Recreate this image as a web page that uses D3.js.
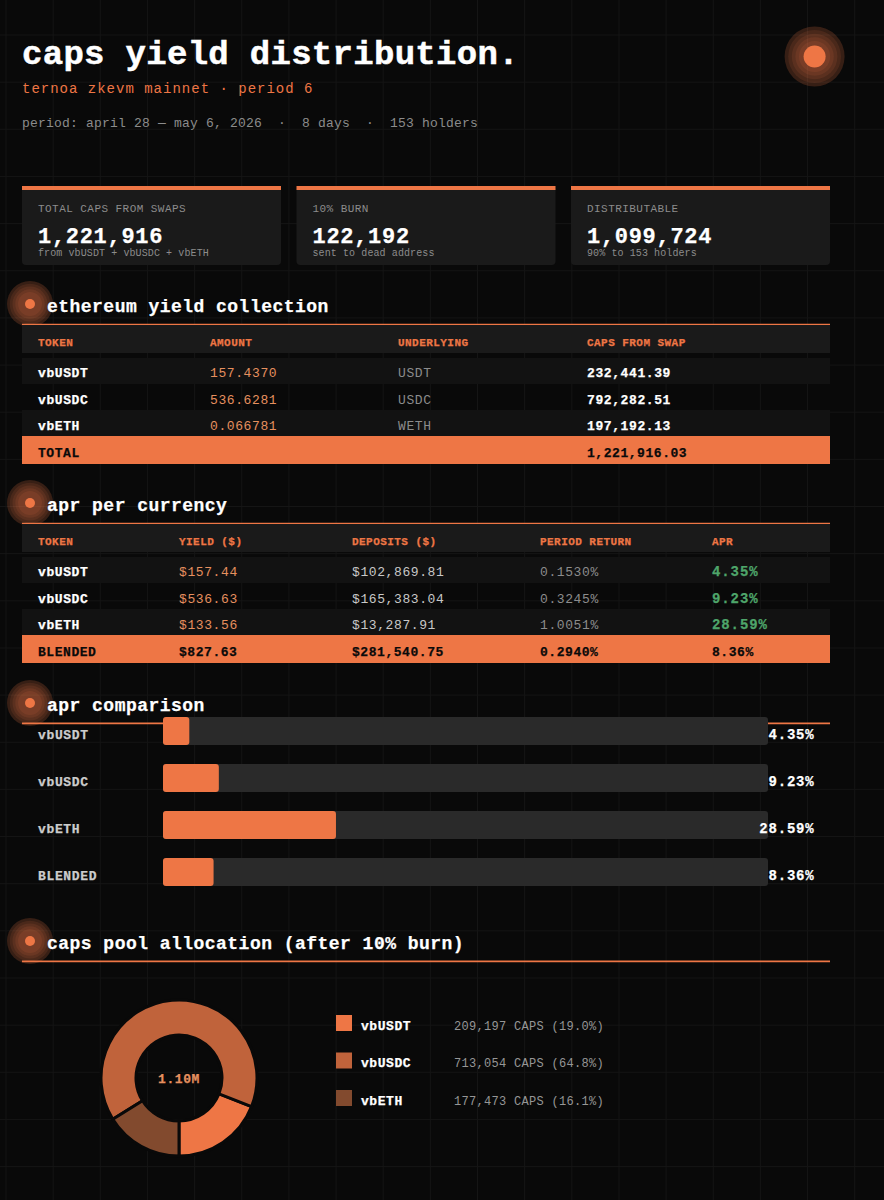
<!DOCTYPE html>
<html>
<head>
<meta charset="utf-8">
<script src="https://cdn.jsdelivr.net/npm/d3@7"></script>
<style>
  html, body { margin: 0; padding: 0; background: #090909; }
  svg { display: block; }
  text { font-family: "Liberation Mono", monospace; white-space: pre; }
</style>
</head>
<body>
<div id="chart"></div>
<script>
// card values
const cardTitles = ["TOTAL CAPS FROM SWAPS", "10% BURN", "DISTRIBUTABLE"]
const cardValues = ["1,221,916", "122,192", "1,099,724"]
const cardNotes = ["from vbUSDT + vbUSDC + vbETH", "sent to dead address", "90% to 153 holders"]

// first table
const yieldHead = ["TOKEN", "AMOUNT", "UNDERLYING", "CAPS FROM SWAP"]
const yieldTokens = ["vbUSDT", "vbUSDC", "vbETH"]
const yieldAmounts = ["157.4370", "536.6281", "0.066781"]
const yieldUnderlying = ["USDT", "USDC", "WETH"]
const yieldCaps = ["232,441.39", "792,282.51", "197,192.13"]
const yieldTotal = ["TOTAL", "", "", "1,221,916.03"]

// second table
const aprHead = ["TOKEN", "YIELD ($)", "DEPOSITS ($)", "PERIOD RETURN", "APR"]
const aprYield = ["$157.44", "$536.63", "$133.56"]
const aprDeposits = ["$102,869.81", "$165,383.04", "$13,287.91"]
const aprReturn = ["0.1530%", "0.3245%", "1.0051%"]
const aprText = ["4.35%", "9.23%", "28.59%"]
const aprBlended = ["BLENDED", "$827.63", "$281,540.75", "0.2940%", "8.36%"]

// bars
const barNames = ["vbUSDT", "vbUSDC", "vbETH", "BLENDED"]
const barValues = [4.35, 9.23, 28.59, 8.36]

// donut
const poolNames = ["vbUSDT", "vbUSDC", "vbETH"]
const poolValues = [209197, 713054, 177473]
const poolLabels = ["209,197 CAPS (19.0%)", "713,054 CAPS (64.8%)", "177,473 CAPS (16.1%)"]
const poolColors = ["#ee7645", "#c0633b", "#824a2e"]

const orange = "#ee7645"
const bg = "#090909"
const svg = d3.select("#chart").append("svg").attr("width", 884).attr("height", 1200)

svg.append("rect").attr("width", 884).attr("height", 1200).attr("fill", bg)

// background grid
const grid = svg.append("g").attr("stroke", "#151515").attr("stroke-width", 1)
d3.range(6, 884, 47.15).forEach(x => {
  grid.append("line").attr("x1", x).attr("x2", x).attr("y1", 0).attr("y2", 1200)
})
d3.range(35, 1200, 47.15).forEach(y => {
  grid.append("line").attr("y1", y).attr("y2", y).attr("x1", 0).attr("x2", 884)
})

// bold gets a thin outline, the slab faces in the original are heavier
function label(g, x, y, str, size, fill, bold, spacing) {
  const t = g.append("text").attr("x", x).attr("y", y).text(str)
    .attr("font-size", size).attr("fill", fill)
    .attr("font-weight", bold ? "bold" : "normal")
    .attr("letter-spacing", spacing || 0)
  if (bold) t.attr("stroke", fill).attr("stroke-width", 0.25)
  return t
}

function glow(cx, cy, r, core) {
  const g = svg.append("g")
  ;[1, 0.88, 0.76, 0.64, 0.52].forEach(k => {
    g.append("circle").attr("cx", cx).attr("cy", cy).attr("r", r * k)
      .attr("fill", orange).attr("fill-opacity", k == 1 ? 0.2 : 0.11)
  })
  g.append("circle").attr("cx", cx).attr("cy", cy).attr("r", core).attr("fill", orange)
}

// header
label(svg, 22, 64, "caps yield distribution.", 34, "#ffffff", true, 0.3).attr("stroke-width", 0.5)
label(svg, 22, 93, "ternoa zkevm mainnet · period 6", 14, orange, false, 1)
label(svg, 22, 127, "period: april 28 — may 6, 2026  ·  8 days  ·  153 holders", 13, "#8c8c8c", false, 0.2)
glow(814.6, 56.5, 30, 11)

// cards
const cardX = d3.scalePoint().domain(cardTitles).range([22, 571])
cardTitles.forEach((t, i) => {
  const g = svg.append("g").attr("transform", `translate(${cardX(t)},186)`)
  g.append("rect").attr("width", 259).attr("height", 79).attr("rx", 4).attr("fill", "#1a1a1a")
  g.append("rect").attr("width", 259).attr("height", 4).attr("fill", orange)
  label(g, 16, 26, t, 11, "#8c8c8c", false, 0.45)
  label(g, 16, 57, cardValues[i], 22, "#ffffff", true, 0.7)
  label(g, 16, 70, cardNotes[i], 10, "#8c8c8c", false, 0.1)
})

function section(y, title, thin) {
  svg.append("line").attr("x1", 22).attr("x2", 830)
    .attr("y1", y + 20.4).attr("y2", y + 20.4)
    .attr("stroke", orange).attr("stroke-width", thin ? 1.2 : 1.6)
  glow(30, y, 23, 5)
  label(svg, 47, y + 8, title, 18, "#ffffff", true, 0.47)
}

function table(y, xs, head, rows, total) {
  const g = svg.append("g")
  g.append("rect").attr("x", 22).attr("y", y).attr("width", 808).attr("height", 28).attr("fill", "#1a1a1a")
  head.forEach((h, i) => label(g, xs[i], y + 20.5, h, 11, orange, true, 0.45))
  rows.forEach((row, r) => {
    const ry = y + 33 + r * 26
    if (r % 2 == 0) {
      g.append("rect").attr("x", 22).attr("y", ry).attr("width", 808).attr("height", 26).attr("fill", "#121212")
    }
    row.forEach((c, i) => label(g, xs[i], ry + 19 + r * 0.5, c.text, c.size || 13, c.fill, c.bold, c.spacing || 0.6))
  })
  const ty = y + 33 + rows.length * 26
  g.append("rect").attr("x", 22).attr("y", ty).attr("width", 808).attr("height", 28).attr("fill", orange)
  total.forEach((t, i) => label(g, xs[i], ty + 21, t, 13, "#0a0a0a", true, 0.55))
}

section(304, "ethereum yield collection", true)
table(325, [38, 210, 398, 587], yieldHead,
  yieldTokens.map((t, i) => [
    {text: t, fill: "#ffffff", bold: true},
    {text: yieldAmounts[i], fill: "#e6905f"},
    {text: yieldUnderlying[i], fill: "#8c8c8c"},
    {text: yieldCaps[i], fill: "#ffffff", bold: true}
  ]), yieldTotal)

section(503, "apr per currency", true)
table(524, [38, 179, 352, 540, 712], aprHead,
  yieldTokens.map((t, i) => [
    {text: t, fill: "#ffffff", bold: true},
    {text: aprYield[i], fill: "#e6905f"},
    {text: aprDeposits[i], fill: "#c8c8c8"},
    {text: aprReturn[i], fill: "#8c8c8c"},
    {text: aprText[i], fill: "#4ea56a", bold: true, size: 14, spacing: 0.9}
  ]), aprBlended)

section(703, "apr comparison")

// apr bars
const x = d3.scaleLinear().domain([0, 100]).range([163, 768])
const y = d3.scaleBand().domain(barNames).range([717, 905]).padding(0)
const bars = svg.append("g")
barNames.forEach((n, i) => {
  const by = y(n)
  label(bars, 38, by + 22, n, 13, "#cccccc", true, 0.65)
  bars.append("rect").attr("x", x(0)).attr("y", by).attr("width", x(100) - x(0)).attr("height", 28)
    .attr("rx", 3).attr("fill", "#2a2a2a")
  bars.append("rect").attr("x", x(0)).attr("y", by).attr("width", x(barValues[i]) - x(0)).attr("height", 28)
    .attr("rx", 3).attr("fill", orange)
  label(bars, 814.5, by + 22, barValues[i].toFixed(2) + "%", 14, "#ffffff", true, 0.8).attr("text-anchor", "end")
})

section(941, "caps pool allocation (after 10% burn)")

// donut, runs counter clockwise from the bottom
const pie = d3.pie().sort(null).startAngle(Math.PI).endAngle(-Math.PI)
const arc = d3.arc().innerRadius(43).outerRadius(78)
const donut = svg.append("g").attr("transform", "translate(179,1078)")
donut.selectAll("path").data(pie(poolValues)).enter().append("path")
  .attr("d", arc)
  .attr("fill", (d, i) => poolColors[i])
  .attr("stroke", bg).attr("stroke-width", 3)
label(donut, 0, 4.5, "1.10M", 13, "#e6905f", true, 0.6).attr("text-anchor", "middle")

// legend
poolNames.forEach((n, i) => {
  const ly = 1023 + i * 37.5
  const g = svg.append("g")
  g.append("rect").attr("x", 336).attr("y", ly - 8).attr("width", 16).attr("height", 16).attr("fill", poolColors[i])
  label(g, 361, ly + 6.7, n, 13, "#ffffff", true, 0.55)
  label(g, 454, ly + 6.7, poolLabels[i], 12, "#969696", false, 0.3)
})
</script>
</body>
</html>
